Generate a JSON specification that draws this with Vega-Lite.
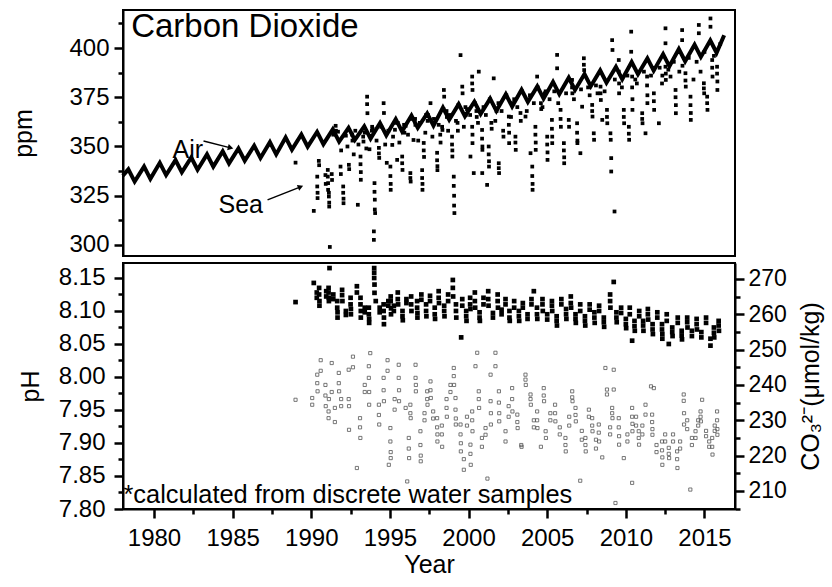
{
  "$schema": "https://vega.github.io/schema/vega-lite/v6.json",
  "background": "white",
  "padding": {"left": 10, "top": 9, "right": 5, "bottom": 5},
  "spacing": 4,
  "config": {
    "font": "Liberation Sans",
    "view": {"stroke": "black", "strokeWidth": 2},
    "axis": {"grid": false, "ticks": true, "domainColor": "black", "domainWidth": 2, "labelColor": "black", "titleColor": "black", "labelFont": "Liberation Sans", "titleFont": "Liberation Sans", "labelFontSize": 24, "titleFontSize": 25, "titleFontWeight": "normal", "labelFlush": false, "labelOverlap": false, "labelBound": false}
  },
  "datasets": {
    "air": [
      {"year":1978.02,"ppm":335.2},{"year":1978.37,"ppm":338.4},{"year":1978.77,"ppm":332.2},
      {"year":1979.37,"ppm":339.8},{"year":1979.77,"ppm":333.6},
      {"year":1980.37,"ppm":341.7},{"year":1980.77,"ppm":335.5},
      {"year":1981.37,"ppm":343.1},{"year":1981.77,"ppm":336.9},
      {"year":1982.37,"ppm":344.4},{"year":1982.77,"ppm":338.2},
      {"year":1983.37,"ppm":346.0},{"year":1983.77,"ppm":339.8},
      {"year":1984.37,"ppm":347.6},{"year":1984.77,"ppm":341.4},
      {"year":1985.37,"ppm":349.0},{"year":1985.77,"ppm":342.8},
      {"year":1986.37,"ppm":350.4},{"year":1986.77,"ppm":344.2},
      {"year":1987.37,"ppm":352.2},{"year":1987.77,"ppm":346.0},
      {"year":1988.37,"ppm":354.6},{"year":1988.77,"ppm":348.4},
      {"year":1989.37,"ppm":356.1},{"year":1989.77,"ppm":349.9},
      {"year":1990.37,"ppm":357.4},{"year":1990.77,"ppm":351.2},
      {"year":1991.37,"ppm":358.7},{"year":1991.77,"ppm":352.5},
      {"year":1992.37,"ppm":359.5},{"year":1992.77,"ppm":353.3},
      {"year":1993.37,"ppm":360.2},{"year":1993.77,"ppm":354.0},
      {"year":1994.37,"ppm":361.9},{"year":1994.77,"ppm":355.7},
      {"year":1995.37,"ppm":363.9},{"year":1995.77,"ppm":357.7},
      {"year":1996.37,"ppm":365.7},{"year":1996.77,"ppm":359.5},
      {"year":1997.37,"ppm":366.8},{"year":1997.77,"ppm":360.6},
      {"year":1998.37,"ppm":369.8},{"year":1998.77,"ppm":363.6},
      {"year":1999.37,"ppm":371.5},{"year":1999.77,"ppm":365.3},
      {"year":2000.37,"ppm":372.7},{"year":2000.77,"ppm":366.5},
      {"year":2001.37,"ppm":374.3},{"year":2001.77,"ppm":368.1},
      {"year":2002.37,"ppm":376.5},{"year":2002.77,"ppm":370.3},
      {"year":2003.37,"ppm":378.8},{"year":2003.77,"ppm":372.6},
      {"year":2004.37,"ppm":380.5},{"year":2004.77,"ppm":374.3},
      {"year":2005.37,"ppm":382.8},{"year":2005.77,"ppm":376.6},
      {"year":2006.37,"ppm":384.9},{"year":2006.77,"ppm":378.7},
      {"year":2007.37,"ppm":386.8},{"year":2007.77,"ppm":380.6},
      {"year":2008.37,"ppm":388.6},{"year":2008.77,"ppm":382.4},
      {"year":2009.37,"ppm":390.4},{"year":2009.77,"ppm":384.2},
      {"year":2010.37,"ppm":392.9},{"year":2010.77,"ppm":386.7},
      {"year":2011.37,"ppm":394.7},{"year":2011.77,"ppm":388.5},
      {"year":2012.37,"ppm":396.9},{"year":2012.77,"ppm":390.7},
      {"year":2013.37,"ppm":399.5},{"year":2013.77,"ppm":393.3},
      {"year":2014.37,"ppm":401.7},{"year":2014.77,"ppm":395.5},
      {"year":2015.37,"ppm":403.8},{"year":2015.77,"ppm":397.6},
      {"year":2016.25,"ppm":406.5}
    ],
    "sea": [
      {"year":1989.0,"ppm":341.8},{"year":1990.16,"ppm":317.3},
      {"year":1990.38,"ppm":334.7},{"year":1990.38,"ppm":329.7},{"year":1990.4,"ppm":326.5},{"year":1990.4,"ppm":323.8},
      {"year":1990.48,"ppm":342.7},{"year":1990.5,"ppm":340.5},
      {"year":1990.9,"ppm":335.5},{"year":1990.92,"ppm":331},
      {"year":1991.05,"ppm":338.1},{"year":1991.05,"ppm":334.7},{"year":1991.07,"ppm":331.4},{"year":1991.07,"ppm":328},
      {"year":1991.12,"ppm":326.5},{"year":1991.12,"ppm":324.6},{"year":1991.14,"ppm":321.5},{"year":1991.14,"ppm":319.5},
      {"year":1991.18,"ppm":299.0},{"year":1991.3,"ppm":336},{"year":1991.32,"ppm":333},
      {"year":1991.55,"ppm":360.5},{"year":1991.57,"ppm":358},
      {"year":1991.86,"ppm":339.8},{"year":1991.88,"ppm":336},
      {"year":1992.03,"ppm":329.7},{"year":1992.03,"ppm":326.5},{"year":1992.05,"ppm":323.5},{"year":1992.05,"ppm":321.2},
      {"year":1992.39,"ppm":340.7},{"year":1992.41,"ppm":338.5},
      {"year":1992.6,"ppm":356},{"year":1992.62,"ppm":353},{"year":1992.96,"ppm":320.4},
      {"year":1993.13,"ppm":344.9},{"year":1993.13,"ppm":341},{"year":1993.15,"ppm":337},{"year":1993.15,"ppm":333.1},
      {"year":1993.3,"ppm":355},{"year":1993.32,"ppm":352.5},
      {"year":1993.55,"ppm":375.3},{"year":1993.55,"ppm":371.5},{"year":1993.57,"ppm":366.9},
      {"year":1993.7,"ppm":348.6},{"year":1993.85,"ppm":358},{"year":1993.87,"ppm":360},
      {"year":1994.02,"ppm":331.4},{"year":1994.02,"ppm":327},{"year":1994.04,"ppm":323},{"year":1994.04,"ppm":318},{"year":1994.06,"ppm":316.2},
      {"year":1993.98,"ppm":306.9},{"year":1993.98,"ppm":302.6},
      {"year":1994.3,"ppm":349.3},{"year":1994.3,"ppm":346.5},{"year":1994.32,"ppm":344.2},
      {"year":1994.6,"ppm":372},{"year":1994.62,"ppm":367},{"year":1994.8,"ppm":341.7},
      {"year":1995.03,"ppm":339.8},{"year":1995.03,"ppm":335},{"year":1995.05,"ppm":331},{"year":1995.05,"ppm":328},
      {"year":1995.15,"ppm":350.8},{"year":1995.3,"ppm":362},{"year":1995.32,"ppm":358.5},{"year":1995.46,"ppm":343.2},
      {"year":1995.78,"ppm":344.9},{"year":1995.78,"ppm":341.5},{"year":1995.8,"ppm":338.1},
      {"year":1995.9,"ppm":361},{"year":1995.92,"ppm":357},
      {"year":1996.3,"ppm":336.5},{"year":1996.3,"ppm":334},{"year":1996.32,"ppm":332.2},
      {"year":1996.5,"ppm":353.3},{"year":1996.6,"ppm":364},{"year":1996.62,"ppm":361},
      {"year":1997.05,"ppm":338},{"year":1997.05,"ppm":334},{"year":1997.07,"ppm":331},{"year":1997.07,"ppm":328},
      {"year":1997.15,"ppm":351.8},{"year":1997.15,"ppm":348},{"year":1997.17,"ppm":344.7},
      {"year":1997.4,"ppm":363},{"year":1997.42,"ppm":366},{"year":1997.58,"ppm":372},
      {"year":1998.0,"ppm":346.8},{"year":1998.0,"ppm":343},{"year":1998.02,"ppm":340},{"year":1998.02,"ppm":338},
      {"year":1998.2,"ppm":356},{"year":1998.22,"ppm":352},{"year":1998.32,"ppm":360},{"year":1998.34,"ppm":358.4},
      {"year":1998.43,"ppm":378.7},{"year":1998.45,"ppm":375.3},{"year":1998.6,"ppm":368},{"year":1998.62,"ppm":365},
      {"year":1998.95,"ppm":355},{"year":1998.95,"ppm":351},{"year":1998.97,"ppm":348},{"year":1998.97,"ppm":344.9},
      {"year":1999.06,"ppm":334.7},{"year":1999.06,"ppm":330},{"year":1999.08,"ppm":325},{"year":1999.08,"ppm":320},{"year":1999.1,"ppm":316.2},
      {"year":1999.3,"ppm":362},{"year":1999.32,"ppm":358},{"year":1999.49,"ppm":396.4},
      {"year":1999.6,"ppm":380.4},{"year":1999.62,"ppm":377},{"year":1999.8,"ppm":370},{"year":1999.82,"ppm":366},
      {"year":2000.12,"ppm":344.9},
      {"year":2000.23,"ppm":385.5},{"year":2000.23,"ppm":382},{"year":2000.25,"ppm":378.7},{"year":2000.23,"ppm":360},{"year":2000.25,"ppm":356},{"year":2000.25,"ppm":351.7},
      {"year":2000.33,"ppm":336.5},{"year":2000.5,"ppm":368},{"year":2000.52,"ppm":365},{"year":2000.65,"ppm":388},
      {"year":2000.86,"ppm":358.4},{"year":2000.86,"ppm":354},{"year":2000.88,"ppm":350},{"year":2000.88,"ppm":348.3},{"year":2000.87,"ppm":336.5},
      {"year":2001.18,"ppm":330.5},
      {"year":2001.28,"ppm":350},{"year":2001.28,"ppm":346},{"year":2001.3,"ppm":342.5},{"year":2001.3,"ppm":339.8},
      {"year":2001.45,"ppm":362},{"year":2001.47,"ppm":359},{"year":2001.6,"ppm":384.6},{"year":2001.78,"ppm":368},
      {"year":2001.92,"ppm":341.5},{"year":2001.92,"ppm":339},{"year":2001.94,"ppm":336.5},
      {"year":2002.2,"ppm":358},{"year":2002.22,"ppm":355},
      {"year":2002.56,"ppm":365.2},{"year":2002.56,"ppm":361},{"year":2002.58,"ppm":357},{"year":2002.58,"ppm":351.7},
      {"year":2002.75,"ppm":372},
      {"year":2002.98,"ppm":355},{"year":2002.98,"ppm":352},{"year":2003.0,"ppm":348.3},
      {"year":2003.3,"ppm":367},{"year":2003.32,"ppm":363},{"year":2003.62,"ppm":365.2},{"year":2003.94,"ppm":346.6},
      {"year":2004.05,"ppm":339.8},{"year":2004.05,"ppm":335},{"year":2004.07,"ppm":331},{"year":2004.07,"ppm":328},
      {"year":2004.25,"ppm":360},{"year":2004.25,"ppm":356},{"year":2004.27,"ppm":352},{"year":2004.27,"ppm":348.3},
      {"year":2004.36,"ppm":385.5},{"year":2004.6,"ppm":372},{"year":2004.62,"ppm":369},{"year":2004.85,"ppm":377},
      {"year":2005.0,"ppm":355},{"year":2005.0,"ppm":351},{"year":2005.02,"ppm":347},{"year":2005.02,"ppm":343.2},
      {"year":2005.3,"ppm":363.5},{"year":2005.3,"ppm":359},{"year":2005.32,"ppm":355},{"year":2005.32,"ppm":351.7},
      {"year":2005.45,"ppm":378},{"year":2005.63,"ppm":396.5},{"year":2005.63,"ppm":389.7},
      {"year":2005.85,"ppm":368.6},{"year":2005.85,"ppm":364},{"year":2005.87,"ppm":360},
      {"year":2006.06,"ppm":351.7},{"year":2006.06,"ppm":348},{"year":2006.08,"ppm":344.5},{"year":2006.08,"ppm":341.5},
      {"year":2006.37,"ppm":363.5},{"year":2006.39,"ppm":360},
      {"year":2006.58,"ppm":383.8},{"year":2006.58,"ppm":380},{"year":2006.6,"ppm":377},
      {"year":2006.9,"ppm":361.8},{"year":2006.9,"ppm":357},{"year":2006.92,"ppm":353},{"year":2006.92,"ppm":351.7},
      {"year":2007.11,"ppm":346.6},{"year":2007.22,"ppm":370.2},
      {"year":2007.33,"ppm":394.8},{"year":2007.33,"ppm":391.5},{"year":2007.35,"ppm":388.8},{"year":2007.6,"ppm":380},
      {"year":2007.86,"ppm":371.1},{"year":2007.86,"ppm":368},{"year":2007.88,"ppm":365.2},
      {"year":2007.96,"ppm":356.7},{"year":2007.98,"ppm":353.4},{"year":2008.2,"ppm":377},
      {"year":2008.39,"ppm":380.4},{"year":2008.39,"ppm":377},{"year":2008.41,"ppm":373.6},{"year":2008.5,"ppm":363.5},
      {"year":2008.8,"ppm":368.6},{"year":2008.8,"ppm":365},{"year":2008.82,"ppm":361.8},
      {"year":2009.02,"ppm":356.7},{"year":2009.04,"ppm":353.4},{"year":2009.07,"ppm":344.1},{"year":2009.07,"ppm":337.3},
      {"year":2009.13,"ppm":404},{"year":2009.15,"ppm":399},{"year":2009.28,"ppm":317},
      {"year":2009.55,"ppm":393.9},{"year":2009.55,"ppm":388},{"year":2009.57,"ppm":382},{"year":2009.57,"ppm":377},
      {"year":2009.87,"ppm":368.6},{"year":2009.87,"ppm":365},{"year":2009.89,"ppm":361.8},
      {"year":2010.19,"ppm":360},{"year":2010.19,"ppm":356.5},{"year":2010.21,"ppm":353.4},
      {"year":2010.34,"ppm":408.3},{"year":2010.34,"ppm":398.1},
      {"year":2010.4,"ppm":385.5},{"year":2010.4,"ppm":380},{"year":2010.42,"ppm":374},{"year":2010.42,"ppm":368.6},
      {"year":2010.7,"ppm":382},
      {"year":2011.04,"ppm":366.9},{"year":2011.04,"ppm":364},{"year":2011.06,"ppm":361.8},{"year":2011.25,"ppm":356.7},
      {"year":2011.35,"ppm":385.5},{"year":2011.35,"ppm":381},{"year":2011.37,"ppm":376},{"year":2011.37,"ppm":372},
      {"year":2011.78,"ppm":377},{"year":2011.78,"ppm":373},{"year":2011.8,"ppm":368.6},{"year":2012.1,"ppm":361.8},
      {"year":2012.3,"ppm":382},{"year":2012.32,"ppm":386},
      {"year":2012.52,"ppm":410},{"year":2012.52,"ppm":402.4},{"year":2012.52,"ppm":390.5},{"year":2012.54,"ppm":387},{"year":2012.54,"ppm":383.8},
      {"year":2012.84,"ppm":385.5},
      {"year":2013.16,"ppm":378.7},{"year":2013.16,"ppm":375},{"year":2013.18,"ppm":371},{"year":2013.18,"ppm":366.9},
      {"year":2013.4,"ppm":388},{"year":2013.58,"ppm":409.1},{"year":2013.58,"ppm":404},
      {"year":2013.79,"ppm":387.2},{"year":2013.79,"ppm":383.5},{"year":2013.81,"ppm":380.4},
      {"year":2014.11,"ppm":375.3},{"year":2014.11,"ppm":371},{"year":2014.13,"ppm":367},{"year":2014.13,"ppm":363.5},
      {"year":2014.3,"ppm":384},{"year":2014.64,"ppm":411.7},{"year":2014.64,"ppm":407.5},{"year":2014.75,"ppm":388},
      {"year":2014.96,"ppm":382.1},{"year":2014.96,"ppm":379.5},{"year":2014.98,"ppm":377},
      {"year":2015.17,"ppm":375.3},{"year":2015.17,"ppm":372},{"year":2015.19,"ppm":368.6},
      {"year":2015.38,"ppm":415},{"year":2015.38,"ppm":410.8},
      {"year":2015.49,"ppm":393.9},{"year":2015.49,"ppm":390},{"year":2015.51,"ppm":385.5},
      {"year":2015.8,"ppm":390.5},{"year":2015.8,"ppm":387},{"year":2015.82,"ppm":383},{"year":2015.82,"ppm":378.7},
      {"year":1991.4,"ppm":356},{"year":1991.7,"ppm":357.5},{"year":1992.2,"ppm":355.5},{"year":1992.8,"ppm":358},
      {"year":1993.4,"ppm":357},{"year":1993.9,"ppm":359},{"year":1994.45,"ppm":360},{"year":1994.9,"ppm":358},
      {"year":1995.5,"ppm":362},{"year":1996.0,"ppm":360.5},{"year":1996.4,"ppm":364},{"year":1996.9,"ppm":362},
      {"year":1997.3,"ppm":366},{"year":1997.8,"ppm":364},{"year":1998.4,"ppm":369},{"year":1998.8,"ppm":366},
      {"year":1999.35,"ppm":371},{"year":1999.9,"ppm":369},{"year":2000.4,"ppm":372},{"year":2000.95,"ppm":370},
      {"year":2001.35,"ppm":374},{"year":2001.9,"ppm":372},{"year":2002.4,"ppm":376},{"year":2002.9,"ppm":374},
      {"year":2003.4,"ppm":378},{"year":2003.9,"ppm":376},{"year":2004.4,"ppm":380},{"year":2004.9,"ppm":378},
      {"year":1991.9,"ppm":348},{"year":1992.3,"ppm":350},{"year":1992.7,"ppm":346},{"year":1993.0,"ppm":351},
      {"year":1993.5,"ppm":349},{"year":1994.15,"ppm":353},{"year":1994.7,"ppm":351},{"year":1995.2,"ppm":355},
      {"year":1995.6,"ppm":352},{"year":1996.15,"ppm":356},{"year":1996.8,"ppm":353},{"year":1997.25,"ppm":357},
      {"year":1997.7,"ppm":355},{"year":1998.1,"ppm":361},{"year":1998.7,"ppm":358},{"year":1999.2,"ppm":363},
      {"year":1999.7,"ppm":360},{"year":2000.1,"ppm":366},{"year":2000.6,"ppm":362},{"year":2001.1,"ppm":366},
      {"year":2001.7,"ppm":363},{"year":2002.1,"ppm":368},{"year":2002.7,"ppm":365},{"year":2003.1,"ppm":370},
      {"year":2003.7,"ppm":368},{"year":2004.15,"ppm":372},{"year":2004.7,"ppm":370},{"year":2005.15,"ppm":374},
      {"year":2005.7,"ppm":372},{"year":2006.2,"ppm":377},{"year":2006.7,"ppm":374},{"year":2007.15,"ppm":379},
      {"year":2007.7,"ppm":376},{"year":2008.1,"ppm":381},{"year":2008.65,"ppm":378},{"year":2009.3,"ppm":384},
      {"year":2009.75,"ppm":380},{"year":2010.1,"ppm":386},{"year":2010.6,"ppm":384},{"year":2011.15,"ppm":388},
      {"year":2011.6,"ppm":386},{"year":2012.15,"ppm":390},{"year":2012.7,"ppm":389},{"year":2013.05,"ppm":393},
      {"year":2013.6,"ppm":391},{"year":2014.0,"ppm":395},{"year":2014.5,"ppm":393},{"year":2015.0,"ppm":398},
      {"year":2015.6,"ppm":396},{"year":2016.0,"ppm":402}
    ],
    "arrows": [
      {"label":"Air","year":1983.15,"ppm":352.8,"year2":1984.87,"ppm2":349.3},
      {"label":"Sea","year":1987.22,"ppm":322.9,"year2":1989.32,"ppm2":329.5}
    ],
    "labels": [
      {"label":"Air","year":1981.18,"ppm":344.2},
      {"label":"Sea","year":1984.1,"ppm":316.3}
    ],
    "title": [{"label":"Carbon Dioxide","year":1978.55,"ppm":405.7}],
    "note": [{"label":"*calculated from discrete water samples","year":1978.06,"ph":7.809}],
    "ph": [
      {"year":1989.0,"ph":8.1135},{"year":1990.16,"ph":8.1425},{"year":1990.35,"ph":8.128},{"year":1990.35,"ph":8.12},
      {"year":1990.5,"ph":8.135},{"year":1990.5,"ph":8.125},{"year":1990.52,"ph":8.115},{"year":1990.52,"ph":8.108},
      {"year":1990.95,"ph":8.13},{"year":1990.95,"ph":8.122},
      {"year":1991.1,"ph":8.135},{"year":1991.1,"ph":8.128},{"year":1991.12,"ph":8.12},{"year":1991.12,"ph":8.115},
      {"year":1991.16,"ph":8.165},{"year":1991.4,"ph":8.125},{"year":1991.4,"ph":8.118},
      {"year":1991.65,"ph":8.115},{"year":1991.65,"ph":8.105},{"year":1991.67,"ph":8.098},{"year":1991.67,"ph":8.09},
      {"year":1991.96,"ph":8.132},{"year":1991.96,"ph":8.124},{"year":1991.98,"ph":8.115},
      {"year":1992.2,"ph":8.1},{"year":1992.2,"ph":8.094},
      {"year":1992.5,"ph":8.12},{"year":1992.5,"ph":8.11},{"year":1992.52,"ph":8.103},{"year":1992.52,"ph":8.095},
      {"year":1992.9,"ph":8.1375},{"year":1992.9,"ph":8.128},
      {"year":1993.13,"ph":8.12},{"year":1993.13,"ph":8.11},{"year":1993.15,"ph":8.1},{"year":1993.15,"ph":8.09},
      {"year":1993.4,"ph":8.105},{"year":1993.4,"ph":8.098},
      {"year":1993.66,"ph":8.105},{"year":1993.66,"ph":8.095},{"year":1993.68,"ph":8.088},{"year":1993.68,"ph":8.082},
      {"year":1994.0,"ph":8.165},{"year":1994.0,"ph":8.158},{"year":1994.0,"ph":8.15},{"year":1994.02,"ph":8.14},{"year":1994.02,"ph":8.1275},
      {"year":1994.1,"ph":8.115},{"year":1994.35,"ph":8.105},{"year":1994.35,"ph":8.098},
      {"year":1994.6,"ph":8.11},{"year":1994.6,"ph":8.1},{"year":1994.62,"ph":8.09},{"year":1994.62,"ph":8.08},
      {"year":1994.9,"ph":8.115},{"year":1994.9,"ph":8.108},
      {"year":1995.05,"ph":8.122},{"year":1995.05,"ph":8.115},{"year":1995.07,"ph":8.104},{"year":1995.07,"ph":8.095},
      {"year":1995.25,"ph":8.108},{"year":1995.25,"ph":8.1},
      {"year":1995.5,"ph":8.128},{"year":1995.5,"ph":8.118},{"year":1995.52,"ph":8.11},
      {"year":1995.8,"ph":8.1},{"year":1995.8,"ph":8.092},{"year":1995.82,"ph":8.086},
      {"year":1996.05,"ph":8.118},{"year":1996.05,"ph":8.112},
      {"year":1996.35,"ph":8.122},{"year":1996.35,"ph":8.11},{"year":1996.37,"ph":8.1},
      {"year":1996.73,"ph":8.115},{"year":1996.73,"ph":8.105},{"year":1996.75,"ph":8.097},{"year":1996.75,"ph":8.09},
      {"year":1997.0,"ph":8.125},{"year":1997.0,"ph":8.117},
      {"year":1997.3,"ph":8.11},{"year":1997.3,"ph":8.1},{"year":1997.32,"ph":8.092},
      {"year":1997.55,"ph":8.123},{"year":1997.55,"ph":8.115},
      {"year":1997.85,"ph":8.105},{"year":1997.85,"ph":8.095},{"year":1997.87,"ph":8.088},
      {"year":1998.1,"ph":8.13},{"year":1998.1,"ph":8.12},{"year":1998.12,"ph":8.112},
      {"year":1998.45,"ph":8.108},{"year":1998.45,"ph":8.1},{"year":1998.47,"ph":8.092},
      {"year":1998.7,"ph":8.125},{"year":1998.7,"ph":8.115},
      {"year":1999.0,"ph":8.147},{"year":1999.0,"ph":8.135},{"year":1999.02,"ph":8.122},
      {"year":1999.2,"ph":8.11},{"year":1999.2,"ph":8.1},{"year":1999.22,"ph":8.09},
      {"year":1999.53,"ph":8.06},{"year":1999.6,"ph":8.118},{"year":1999.6,"ph":8.108},
      {"year":1999.85,"ph":8.1},{"year":1999.85,"ph":8.092},{"year":1999.87,"ph":8.085},
      {"year":2000.1,"ph":8.12},{"year":2000.1,"ph":8.11},{"year":2000.12,"ph":8.103},
      {"year":2000.4,"ph":8.128},{"year":2000.4,"ph":8.115},{"year":2000.42,"ph":8.105},
      {"year":2000.7,"ph":8.098},{"year":2000.7,"ph":8.09},{"year":2000.72,"ph":8.085},
      {"year":2000.95,"ph":8.12},{"year":2000.95,"ph":8.11},
      {"year":2001.25,"ph":8.13},{"year":2001.25,"ph":8.118},{"year":2001.27,"ph":8.108},
      {"year":2001.55,"ph":8.097},{"year":2001.55,"ph":8.09},
      {"year":2001.85,"ph":8.125},{"year":2001.85,"ph":8.115},{"year":2001.87,"ph":8.105},
      {"year":2002.1,"ph":8.102},{"year":2002.1,"ph":8.095},
      {"year":2002.35,"ph":8.118},{"year":2002.35,"ph":8.11},
      {"year":2002.6,"ph":8.1},{"year":2002.6,"ph":8.09},{"year":2002.62,"ph":8.085},
      {"year":2002.9,"ph":8.115},{"year":2002.9,"ph":8.105},
      {"year":2003.2,"ph":8.1},{"year":2003.2,"ph":8.092},{"year":2003.22,"ph":8.085},
      {"year":2003.45,"ph":8.112},{"year":2003.45,"ph":8.105},
      {"year":2003.75,"ph":8.095},{"year":2003.75,"ph":8.088},
      {"year":2004.0,"ph":8.118},{"year":2004.0,"ph":8.11},{"year":2004.15,"ph":8.13},
      {"year":2004.35,"ph":8.105},{"year":2004.35,"ph":8.095},{"year":2004.37,"ph":8.088},
      {"year":2004.7,"ph":8.118},{"year":2004.7,"ph":8.11},{"year":2004.72,"ph":8.1},
      {"year":2005.0,"ph":8.095},{"year":2005.0,"ph":8.087},
      {"year":2005.3,"ph":8.115},{"year":2005.3,"ph":8.108},{"year":2005.32,"ph":8.1},
      {"year":2005.6,"ph":8.092},{"year":2005.6,"ph":8.085},{"year":2005.62,"ph":8.078},
      {"year":2005.9,"ph":8.118},{"year":2005.9,"ph":8.11},
      {"year":2006.2,"ph":8.103},{"year":2006.2,"ph":8.095},{"year":2006.22,"ph":8.088},
      {"year":2006.5,"ph":8.122},{"year":2006.5,"ph":8.112},{"year":2006.52,"ph":8.105},
      {"year":2006.8,"ph":8.095},{"year":2006.8,"ph":8.088},{"year":2006.82,"ph":8.082},
      {"year":2007.1,"ph":8.11},{"year":2007.1,"ph":8.1},
      {"year":2007.4,"ph":8.092},{"year":2007.4,"ph":8.085},{"year":2007.42,"ph":8.078},
      {"year":2007.7,"ph":8.11},{"year":2007.7,"ph":8.102},
      {"year":2008.0,"ph":8.098},{"year":2008.0,"ph":8.09},{"year":2008.02,"ph":8.082},
      {"year":2008.3,"ph":8.108},{"year":2008.3,"ph":8.1},
      {"year":2008.6,"ph":8.09},{"year":2008.6,"ph":8.083},{"year":2008.62,"ph":8.076},
      {"year":2009.0,"ph":8.125},{"year":2009.0,"ph":8.115},{"year":2009.02,"ph":8.105},{"year":2009.23,"ph":8.144},
      {"year":2009.4,"ph":8.098},{"year":2009.4,"ph":8.09},{"year":2009.42,"ph":8.083},
      {"year":2009.7,"ph":8.105},{"year":2009.7,"ph":8.097},
      {"year":2010.0,"ph":8.088},{"year":2010.0,"ph":8.08},{"year":2010.02,"ph":8.074},
      {"year":2010.25,"ph":8.105},{"year":2010.25,"ph":8.095},{"year":2010.4,"ph":8.055},
      {"year":2010.55,"ph":8.085},{"year":2010.55,"ph":8.077},{"year":2010.57,"ph":8.07},
      {"year":2010.85,"ph":8.1},{"year":2010.85,"ph":8.092},
      {"year":2011.1,"ph":8.085},{"year":2011.1,"ph":8.078},{"year":2011.12,"ph":8.07},
      {"year":2011.4,"ph":8.103},{"year":2011.4,"ph":8.095},{"year":2011.42,"ph":8.087},
      {"year":2011.7,"ph":8.08},{"year":2011.7,"ph":8.072},{"year":2011.72,"ph":8.065},
      {"year":2012.0,"ph":8.098},{"year":2012.0,"ph":8.09},
      {"year":2012.3,"ph":8.08},{"year":2012.3,"ph":8.072},{"year":2012.32,"ph":8.065},{"year":2012.32,"ph":8.058},
      {"year":2012.6,"ph":8.095},{"year":2012.6,"ph":8.085},{"year":2012.73,"ph":8.05},
      {"year":2012.95,"ph":8.075},{"year":2012.95,"ph":8.068},{"year":2012.97,"ph":8.062},
      {"year":2013.3,"ph":8.09},{"year":2013.3,"ph":8.082},
      {"year":2013.55,"ph":8.07},{"year":2013.55,"ph":8.063},{"year":2013.57,"ph":8.057},
      {"year":2013.9,"ph":8.09},{"year":2013.9,"ph":8.083},{"year":2013.92,"ph":8.075},
      {"year":2014.2,"ph":8.07},{"year":2014.2,"ph":8.062},
      {"year":2014.5,"ph":8.088},{"year":2014.5,"ph":8.08},{"year":2014.52,"ph":8.072},
      {"year":2014.8,"ph":8.068},{"year":2014.8,"ph":8.06},
      {"year":2015.1,"ph":8.09},{"year":2015.1,"ph":8.082},
      {"year":2015.38,"ph":8.0475},{"year":2015.38,"ph":8.058},
      {"year":2015.6,"ph":8.075},{"year":2015.6,"ph":8.067},{"year":2015.62,"ph":8.06},
      {"year":2015.9,"ph":8.085},{"year":2015.9,"ph":8.078},{"year":2015.92,"ph":8.07}
    ],
    "co3": [
      {"year":1989.0,"co3":235.8},{"year":1990.06,"co3":236.3},{"year":1990.06,"co3":234.4},
      {"year":1990.38,"co3":242.9},{"year":1990.38,"co3":240.5},{"year":1990.4,"co3":238.2},
      {"year":1990.6,"co3":244},{"year":1990.6,"co3":247},
      {"year":1990.9,"co3":240},{"year":1990.9,"co3":237},{"year":1990.92,"co3":234},
      {"year":1991.1,"co3":232.5},{"year":1991.1,"co3":230.6},{"year":1991.12,"co3":236},
      {"year":1991.3,"co3":246.2},{"year":1991.3,"co3":238},{"year":1991.5,"co3":233.5},{"year":1991.5,"co3":229.5},
      {"year":1991.75,"co3":243.4},{"year":1991.75,"co3":240.5},{"year":1991.77,"co3":238.2},
      {"year":1991.9,"co3":236},{"year":1991.9,"co3":234},
      {"year":1992.38,"co3":244.3},{"year":1992.38,"co3":236},{"year":1992.4,"co3":234},{"year":1992.4,"co3":227.3},
      {"year":1992.65,"co3":248},{"year":1992.65,"co3":245},
      {"year":1993.1,"co3":230.6},{"year":1993.1,"co3":228},{"year":1993.12,"co3":225},{"year":1992.9,"co3":216.5},
      {"year":1993.4,"co3":240},{"year":1993.4,"co3":238},
      {"year":1993.66,"co3":245.3},{"year":1993.66,"co3":242},{"year":1993.68,"co3":238},{"year":1993.68,"co3":234.4},
      {"year":1993.75,"co3":249},
      {"year":1994.3,"co3":234.4},{"year":1994.3,"co3":231.5},{"year":1994.32,"co3":228.8},
      {"year":1994.6,"co3":242},{"year":1994.6,"co3":238.5},{"year":1994.62,"co3":235.4},
      {"year":1994.85,"co3":247},{"year":1994.85,"co3":244},
      {"year":1995.03,"co3":227.8},{"year":1995.03,"co3":224},{"year":1995.05,"co3":221},{"year":1995.05,"co3":219.3},
      {"year":1994.93,"co3":217.4},{"year":1995.3,"co3":236},{"year":1995.3,"co3":233},
      {"year":1995.56,"co3":245.7},{"year":1995.56,"co3":242},{"year":1995.58,"co3":238.5},{"year":1995.58,"co3":235.4},
      {"year":1996.0,"co3":233.5},{"year":1996.1,"co3":212.7},
      {"year":1996.2,"co3":225},{"year":1996.2,"co3":222},{"year":1996.22,"co3":219.3},
      {"year":1996.3,"co3":234.4},{"year":1996.3,"co3":232},{"year":1996.32,"co3":230.6},
      {"year":1996.63,"co3":245.7},{"year":1996.63,"co3":242},{"year":1996.65,"co3":240},{"year":1996.65,"co3":238.2},
      {"year":1996.94,"co3":226.9},{"year":1996.94,"co3":223},{"year":1996.96,"co3":220},{"year":1996.96,"co3":218.4},
      {"year":1997.2,"co3":232},{"year":1997.2,"co3":230},
      {"year":1997.37,"co3":238.2},{"year":1997.37,"co3":236},{"year":1997.39,"co3":234.4},
      {"year":1997.58,"co3":241},{"year":1997.58,"co3":238.5},{"year":1997.6,"co3":236.3},
      {"year":1997.75,"co3":232.5},{"year":1997.75,"co3":230.5},
      {"year":1998.0,"co3":230.6},{"year":1998.0,"co3":228},{"year":1998.02,"co3":226},{"year":1998.02,"co3":224},
      {"year":1998.3,"co3":228.5},{"year":1998.3,"co3":226},{"year":1998.32,"co3":222.5},
      {"year":1998.6,"co3":236},{"year":1998.6,"co3":233.5},{"year":1998.62,"co3":231},
      {"year":1998.85,"co3":240},{"year":1998.85,"co3":238},
      {"year":1999.06,"co3":244.8},{"year":1999.06,"co3":242.5},{"year":1999.08,"co3":240},
      {"year":1999.17,"co3":236.3},{"year":1999.17,"co3":233},{"year":1999.19,"co3":230.5},{"year":1999.19,"co3":228.8},
      {"year":1999.49,"co3":228.8},{"year":1999.49,"co3":226},{"year":1999.51,"co3":223.5},{"year":1999.51,"co3":221.2},
      {"year":1999.7,"co3":219},{"year":1999.7,"co3":216},{"year":1999.9,"co3":231},{"year":1999.9,"co3":228.5},
      {"year":2000.12,"co3":223.1},{"year":2000.12,"co3":220.5},{"year":2000.14,"co3":217.4},
      {"year":2000.23,"co3":232.5},{"year":2000.23,"co3":230},{"year":2000.25,"co3":226.9},
      {"year":2000.44,"co3":245.3},{"year":2000.55,"co3":249.1},
      {"year":2000.65,"co3":238.2},{"year":2000.65,"co3":236},{"year":2000.67,"co3":233.5},
      {"year":2000.85,"co3":225},{"year":2000.85,"co3":222.5},
      {"year":2001.08,"co3":227.8},{"year":2001.08,"co3":225.9},{"year":2001.2,"co3":213.5},
      {"year":2001.4,"co3":242.9},{"year":2001.4,"co3":235.4},{"year":2001.42,"co3":232},{"year":2001.42,"co3":228.8},
      {"year":2001.71,"co3":249.1},{"year":2001.71,"co3":245.3},
      {"year":2001.93,"co3":238.2},{"year":2001.93,"co3":235},{"year":2001.95,"co3":232},{"year":2001.95,"co3":229.7},
      {"year":2002.35,"co3":226.9},{"year":2002.35,"co3":224},
      {"year":2002.55,"co3":234},{"year":2002.55,"co3":231},
      {"year":2002.77,"co3":239.1},{"year":2002.77,"co3":236},{"year":2002.79,"co3":232.5},
      {"year":2003.1,"co3":231.6},{"year":2003.1,"co3":229.5},{"year":2003.12,"co3":227.8},
      {"year":2003.35,"co3":223},{"year":2003.37,"co3":222.5},
      {"year":2003.62,"co3":242.9},{"year":2003.62,"co3":241.5},{"year":2003.64,"co3":240},
      {"year":2003.94,"co3":237.3},{"year":2003.94,"co3":236},{"year":2003.96,"co3":234.4},
      {"year":2004.15,"co3":230},{"year":2004.15,"co3":228},
      {"year":2004.36,"co3":232.5},{"year":2004.36,"co3":230},{"year":2004.38,"co3":227.8},{"year":2004.6,"co3":222.5},
      {"year":2004.78,"co3":239.1},{"year":2004.78,"co3":237},{"year":2004.8,"co3":235.4},
      {"year":2004.9,"co3":226.9},{"year":2004.92,"co3":225},
      {"year":2005.2,"co3":232},{"year":2005.2,"co3":230},
      {"year":2005.5,"co3":234.4},{"year":2005.5,"co3":232},{"year":2005.52,"co3":229.7},
      {"year":2005.8,"co3":228},{"year":2005.8,"co3":226},
      {"year":2006.16,"co3":225},{"year":2006.16,"co3":223},{"year":2006.18,"co3":221.2},
      {"year":2006.4,"co3":228.5},{"year":2006.4,"co3":231},
      {"year":2006.59,"co3":238.2},{"year":2006.59,"co3":236.5},{"year":2006.61,"co3":235.4},
      {"year":2006.8,"co3":233.5},{"year":2006.8,"co3":231.5},{"year":2006.82,"co3":229.7},
      {"year":2007.1,"co3":212.9},{"year":2007.2,"co3":227},{"year":2007.2,"co3":224.5},
      {"year":2007.43,"co3":225},{"year":2007.43,"co3":223},{"year":2007.45,"co3":221.2},
      {"year":2007.65,"co3":233},{"year":2007.65,"co3":231},
      {"year":2007.86,"co3":230.6},{"year":2007.86,"co3":228.5},{"year":2007.88,"co3":226.9},
      {"year":2008.1,"co3":224.5},{"year":2008.1,"co3":222},
      {"year":2008.28,"co3":228.8},{"year":2008.28,"co3":226.5},{"year":2008.3,"co3":224},
      {"year":2008.5,"co3":219.5},{"year":2008.7,"co3":244.8},{"year":2008.8,"co3":238.7},{"year":2008.8,"co3":237.3},
      {"year":2009.0,"co3":228},{"year":2009.0,"co3":226},
      {"year":2009.13,"co3":233.5},{"year":2009.13,"co3":232},{"year":2009.15,"co3":230.6},
      {"year":2009.23,"co3":238.7},{"year":2009.23,"co3":244.3},{"year":2009.34,"co3":206.6},
      {"year":2009.55,"co3":230.6},{"year":2009.55,"co3":228},{"year":2009.57,"co3":225.5},{"year":2009.57,"co3":223.1},
      {"year":2009.87,"co3":219.3},{"year":2010.1,"co3":226},{"year":2010.1,"co3":224},
      {"year":2010.4,"co3":233.5},{"year":2010.4,"co3":231},{"year":2010.42,"co3":229},{"year":2010.42,"co3":226.9},
      {"year":2010.4,"co3":212.3},{"year":2010.65,"co3":231},{"year":2010.65,"co3":228.5},
      {"year":2010.82,"co3":226.9},{"year":2010.82,"co3":225},{"year":2010.84,"co3":223.1},
      {"year":2011.05,"co3":228.5},{"year":2011.05,"co3":226},
      {"year":2011.25,"co3":234.4},{"year":2011.25,"co3":231.6},{"year":2011.6,"co3":239.6},
      {"year":2011.67,"co3":231.6},{"year":2011.67,"co3":229.5},{"year":2011.69,"co3":227.5},{"year":2011.69,"co3":225.9},
      {"year":2011.78,"co3":239.1},{"year":2011.95,"co3":223},{"year":2011.95,"co3":221},
      {"year":2012.3,"co3":224},{"year":2012.3,"co3":221.5},{"year":2012.32,"co3":219.5},{"year":2012.32,"co3":217.4},
      {"year":2012.5,"co3":226},{"year":2012.5,"co3":224},
      {"year":2012.73,"co3":222.2},{"year":2012.73,"co3":220.5},{"year":2012.75,"co3":219.3},
      {"year":2013.0,"co3":224},{"year":2013.0,"co3":226},
      {"year":2013.26,"co3":221.2},{"year":2013.26,"co3":219},{"year":2013.28,"co3":216.5},
      {"year":2013.45,"co3":224},{"year":2013.45,"co3":222},
      {"year":2013.68,"co3":237.3},{"year":2013.68,"co3":235.5},{"year":2013.7,"co3":232},{"year":2013.7,"co3":228.8},
      {"year":2013.9,"co3":230},{"year":2013.9,"co3":227.5},{"year":2014.1,"co3":210.4},
      {"year":2014.2,"co3":225},{"year":2014.2,"co3":223},
      {"year":2014.43,"co3":226.9},{"year":2014.43,"co3":225},
      {"year":2014.6,"co3":228.5},{"year":2014.6,"co3":230},
      {"year":2014.75,"co3":232.5},{"year":2014.75,"co3":231},{"year":2014.77,"co3":229.7},{"year":2014.85,"co3":235.8},
      {"year":2015.1,"co3":227},{"year":2015.1,"co3":225.5},
      {"year":2015.3,"co3":222.5},{"year":2015.3,"co3":224},
      {"year":2015.49,"co3":225},{"year":2015.49,"co3":222.5},{"year":2015.51,"co3":220.3},
      {"year":2015.65,"co3":228.5},{"year":2015.65,"co3":227},
      {"year":2015.8,"co3":232.5},{"year":2015.8,"co3":230},{"year":2015.82,"co3":227.5},{"year":2015.82,"co3":225.9}
    ]
  },
  "vconcat": [
    {
      "width": 612,
      "height": 246,
      "encoding": {
        "x": {"field": "year", "type": "quantitative", "scale": {"domain": [1978.03, 2016.94], "nice": false, "zero": false}, "axis": null},
        "y": {"field": "ppm", "type": "quantitative", "scale": {"domain": [294.4, 419.3], "nice": false, "zero": false}, "axis": null}
      },
      "layer": [
        {"data": {"name": "air"}, "mark": {"type": "line", "color": "black", "strokeWidth": 4},
          "encoding": {"y": {"field": "ppm", "type": "quantitative", "scale": {"domain": [294.4, 419.3], "nice": false, "zero": false},
            "axis": {"title": "ppm", "orient": "left", "values": [300, 325, 350, 375, 400], "format": "d",
              "tickSize": 9, "tickColor": "#000000", "tickWidth": 2.5, "labelPadding": 5, "titlePadding": 32}}}},
        {"data": {"name": "sea"}, "mark": {"type": "point", "shape": "square", "filled": true, "color": "black", "size": 14, "opacity": 1}},
        {"data": {"name": "arrows"}, "mark": {"type": "rule", "color": "black", "strokeWidth": 1.5},
          "encoding": {"x2": {"field": "year2"}, "y2": {"field": "ppm2"}}},
        {"data": {"name": "arrows"}, "transform": [{"filter": "datum.label === 'Air'"}],
          "mark": {"type": "point", "shape": "triangle-right", "filled": true, "color": "black", "size": 40, "opacity": 1, "angle": 14.5},
          "encoding": {"x": {"field": "year2", "type": "quantitative", "scale": {"domain": [1978.03, 2016.94], "nice": false, "zero": false}, "axis": null},
            "y": {"field": "ppm2", "type": "quantitative", "scale": {"domain": [294.4, 419.3], "nice": false, "zero": false}, "axis": null}}},
        {"data": {"name": "arrows"}, "transform": [{"filter": "datum.label === 'Sea'"}],
          "mark": {"type": "point", "shape": "triangle-right", "filled": true, "color": "black", "size": 40, "opacity": 1, "angle": -21.5},
          "encoding": {"x": {"field": "year2", "type": "quantitative", "scale": {"domain": [1978.03, 2016.94], "nice": false, "zero": false}, "axis": null},
            "y": {"field": "ppm2", "type": "quantitative", "scale": {"domain": [294.4, 419.3], "nice": false, "zero": false}, "axis": null}}},
        {"data": {"name": "labels"}, "mark": {"type": "text", "align": "left", "baseline": "alphabetic", "fontSize": 25, "color": "black"},
          "encoding": {"text": {"field": "label"}}},
        {"data": {"name": "title"}, "mark": {"type": "text", "align": "left", "baseline": "alphabetic", "fontSize": 33, "color": "black"},
          "encoding": {"text": {"field": "label"},
            "y": {"field": "ppm", "type": "quantitative", "scale": {"domain": [294.4, 419.3], "nice": false, "zero": false},
              "axis": {"title": null, "orient": "left", "values": [312.5, 337.5, 362.5, 387.5, 412.5], "labels": false, "domain": false,
                "tickSize": 5, "tickColor": "#000000", "tickWidth": 2.5}}}}
      ],
      "resolve": {"scale": {"y": "independent"}}
    },
    {
      "width": 612,
      "height": 246,
      "layer": [
        {"data": {"name": "ph"}, "mark": {"type": "point", "shape": "square", "filled": true, "color": "black", "size": 22, "opacity": 1},
          "encoding": {
            "x": {"field": "year", "type": "quantitative", "scale": {"domain": [1978.03, 2016.94], "nice": false, "zero": false},
              "axis": {"title": "Year", "orient": "bottom", "values": [1980, 1985, 1990, 1995, 2000, 2005, 2010, 2015], "format": "d",
                "tickSize": 9, "tickColor": "#000000", "tickWidth": 2.5, "labelPadding": 8, "titlePadding": 2}},
            "y": {"field": "ph", "type": "quantitative", "scale": {"domain": [7.8, 8.1727], "nice": false, "zero": false},
              "axis": {"title": "pH", "orient": "left", "values": [7.8, 7.85, 7.9, 7.95, 8.0, 8.05, 8.1, 8.15], "format": ".2f",
                "tickSize": 9, "tickColor": "#000000", "tickWidth": 2.5, "labelPadding": 9, "titlePadding": 15}}
          }},
        {"data": {"name": "note"}, "mark": {"type": "text", "align": "left", "baseline": "alphabetic", "fontSize": 25.4, "color": "black"},
          "encoding": {
            "text": {"field": "label"},
            "x": {"field": "year", "type": "quantitative", "scale": {"domain": [1978.03, 2016.94], "nice": false, "zero": false},
              "axis": {"title": null, "orient": "bottom", "values": [1982.5, 1987.5, 1992.5, 1997.5, 2002.5, 2007.5, 2012.5], "labels": false, "domain": false,
                "tickSize": 5, "tickColor": "#000000", "tickWidth": 2.5}},
            "y": {"field": "ph", "type": "quantitative", "scale": {"domain": [7.8, 8.1727], "nice": false, "zero": false},
              "axis": {"title": null, "orient": "left", "values": [7.825, 7.875, 7.925, 7.975, 8.025, 8.075, 8.125], "labels": false, "domain": false,
                "tickSize": 5, "tickColor": "#000000", "tickWidth": 2.5}}
          }},
        {"data": {"name": "co3"}, "mark": {"type": "point", "shape": "square", "filled": false, "color": "#555555", "size": 10, "strokeWidth": 0.8, "opacity": 1},
          "encoding": {
            "x": {"field": "year", "type": "quantitative", "scale": {"domain": [1978.03, 2016.94], "nice": false, "zero": false}, "axis": null},
            "y": {"field": "co3", "type": "quantitative", "scale": {"domain": [204.9, 274.5], "nice": false, "zero": false},
              "axis": {"title": "CO₃²⁻(μmol/kg)", "orient": "right", "values": [210, 220, 230, 240, 250, 260, 270], "format": "d",
                "tickSize": 9, "tickColor": "#000000", "tickWidth": 2.5,
                "labelFont": "Liberation Sans Narrow, Liberation Sans", "labelFontSize": 23,
                "labelPadding": 4, "titlePadding": 12, "titleAngle": -90, "titleBaseline": "top"}}
          }},
        {"data": {"name": "co3"}, "mark": {"type": "point", "shape": "square", "filled": false, "color": "#555555", "size": 10, "opacity": 0},
          "encoding": {
            "x": {"field": "year", "type": "quantitative", "scale": {"domain": [1978.03, 2016.94], "nice": false, "zero": false}, "axis": null},
            "y": {"field": "co3", "type": "quantitative", "scale": {"domain": [204.9, 274.5], "nice": false, "zero": false},
              "axis": {"title": null, "orient": "right", "values": [205, 215, 225, 235, 245, 255, 265], "labels": false, "domain": false,
                "tickSize": 5, "tickColor": "#000000", "tickWidth": 2.5}}
          }}
      ],
      "resolve": {"scale": {"x": "independent", "y": "independent"}}
    }
  ]
}
